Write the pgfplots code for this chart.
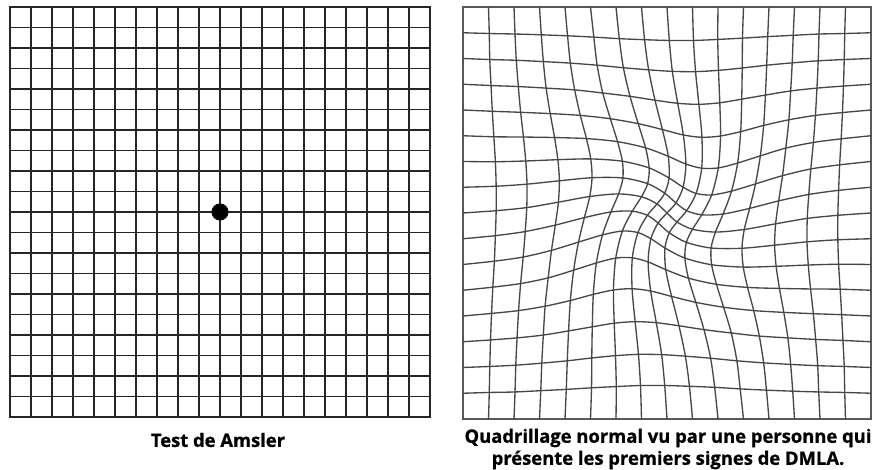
\documentclass[border=0pt]{standalone}
\usepackage{fontspec}
\setmainfont{Open Sans}
\usepackage{pgfplots}
\usepackage{pgfplotstable}
\pgfplotsset{compat=1.18}

\pgfplotstableread{
ci rj x y
0 0 0 0
1 0 1 0
2 0 2 0
3 0 3 0
4 0 4 0
5 0 5 0
6 0 6 0
7 0 7 0
8 0 8 0
9 0 9 0
10 0 10 0
11 0 11 0
12 0 12 0
13 0 13 0
14 0 14 0
15 0 15 0
16 0 16 0
0 1 0 1
1 1 1.03 1.03
2 1 2.04 1.05
3 1 3.05 1.10
4 1 4.05 1.15
5 1 5.04 1.21
6 1 6.01 1.26
7 1 6.96 1.30
8 1 7.91 1.30
9 1 8.88 1.27
10 1 9.87 1.23
11 1 10.87 1.17
12 1 11.90 1.12
13 1 12.93 1.08
14 1 13.95 1.05
15 1 14.97 1.03
16 1 16 1
0 2 0 2
1 2 1.05 2.04
2 2 2.07 2.09
3 2 3.09 2.17
4 2 4.09 2.26
5 2 5.05 2.37
6 2 5.98 2.46
7 2 6.88 2.51
8 2 7.79 2.50
9 2 8.72 2.44
10 2 9.71 2.36
11 2 10.74 2.26
12 2 11.79 2.18
13 2 12.85 2.12
14 2 13.91 2.07
15 2 14.95 2.04
16 2 16 2
0 3 0 3
1 3 1.08 3.07
2 3 2.12 3.15
3 3 3.15 3.26
4 3 4.14 3.42
5 3 5.07 3.58
6 3 5.93 3.72
7 3 6.75 3.78
8 3 7.58 3.74
9 3 8.47 3.62
10 3 9.45 3.47
11 3 10.52 3.34
12 3 11.62 3.22
13 3 12.74 3.15
14 3 13.83 3.09
15 3 14.90 3.05
16 3 16 3
0 4 0 4
1 4 1.12 4.10
2 4 2.18 4.21
3 4 3.22 4.38
4 4 4.21 4.60
5 4 5.11 4.84
6 4 5.90 5.01
7 4 6.63 5.06
8 4 7.36 4.97
9 4 8.18 4.76
10 4 9.13 4.53
11 4 10.22 4.34
12 4 11.40 4.21
13 4 12.58 4.14
14 4 13.74 4.09
15 4 14.85 4.05
16 4 16 4
0 5 0 5
1 5 1.17 5.12
2 5 2.26 5.26
3 5 3.34 5.48
4 5 4.34 5.78
5 5 5.23 6.06
6 5 5.99 6.25
7 5 6.64 6.26
8 5 7.26 6.10
9 5 7.95 5.80
10 5 8.84 5.47
11 5 9.94 5.23
12 5 11.16 5.11
13 5 12.41 5.07
14 5 13.63 5.05
15 5 14.79 5.04
16 5 16 5
0 6 0 6
1 6 1.23 6.13
2 6 2.36 6.29
3 6 3.47 6.55
4 6 4.53 6.87
5 6 5.47 7.15
6 6 6.25 7.30
7 6 6.86 7.24
8 6 7.37 7.00
9 6 7.92 6.64
10 6 8.70 6.25
11 6 9.75 5.99
12 6 10.99 5.90
13 6 12.28 5.93
14 6 13.54 5.98
15 6 14.73 6.01
16 6 16 6
0 7 0 7
1 7 1.27 7.12
2 7 2.44 7.28
3 7 3.62 7.53
4 7 4.76 7.82
5 7 5.80 8.04
6 7 6.64 8.07
7 7 7.23 7.91
8 7 7.65 7.61
9 7 8.09 7.23
10 7 8.76 6.86
11 7 9.73 6.64
12 7 10.94 6.63
13 7 12.22 6.75
14 7 13.49 6.88
15 7 14.70 6.96
16 7 16 7
0 8 0 8
1 8 1.30 8.09
2 8 2.50 8.21
3 8 3.74 8.42
4 8 4.97 8.64
5 8 6.10 8.74
6 8 7.00 8.63
7 8 7.61 8.35
8 8 8.00 8.00
9 8 8.39 7.65
10 8 9.00 7.37
11 8 9.90 7.26
12 8 11.03 7.36
13 8 12.26 7.58
14 8 13.50 7.79
15 8 14.70 7.91
16 8 16 8
0 9 0 9
1 9 1.30 9.04
2 9 2.51 9.12
3 9 3.78 9.25
4 9 5.06 9.37
5 9 6.27 9.36
6 9 7.24 9.14
7 9 7.91 8.77
8 9 8.35 8.39
9 9 8.77 8.09
10 9 9.36 7.93
11 9 10.20 7.96
12 9 11.24 8.18
13 9 12.38 8.47
14 9 13.56 8.72
15 9 14.73 8.88
16 9 16 9
0 10 0 10
1 10 1.27 9.99
2 10 2.46 10.02
3 10 3.72 10.07
4 10 5.01 10.10
5 10 6.25 10.01
6 10 7.30 9.75
7 10 8.08 9.36
8 10 8.63 9.00
9 10 9.14 8.76
10 10 9.75 8.70
11 10 10.53 8.85
12 10 11.47 9.13
13 10 12.53 9.45
14 10 13.64 9.71
15 10 14.77 9.87
16 10 16 10
0 11 0 11
1 11 1.21 10.96
2 11 2.37 10.95
3 11 3.59 10.93
4 11 4.84 10.89
5 11 6.06 10.77
6 11 7.16 10.53
7 11 8.05 10.20
8 11 8.74 9.90
9 11 9.36 9.74
10 11 10.01 9.75
11 11 10.77 9.94
12 11 11.66 10.22
13 11 12.66 10.52
14 11 13.74 10.74
15 11 14.83 10.88
16 11 16 11
0 12 0 12
1 12 1.15 11.95
2 12 2.26 11.91
3 12 3.42 11.86
4 12 4.60 11.79
5 12 5.78 11.66
6 12 6.87 11.47
7 12 7.82 11.24
8 12 8.64 11.03
9 12 9.37 10.94
10 12 10.10 10.99
11 12 10.89 11.16
12 12 11.79 11.40
13 12 12.78 11.62
14 12 13.82 11.79
15 12 14.88 11.90
16 12 16 12
0 13 0 13
1 13 1.10 12.95
2 13 2.17 12.91
3 13 3.26 12.85
4 13 4.38 12.78
5 13 5.48 12.66
6 13 6.55 12.53
7 13 7.53 12.38
8 13 8.42 12.26
9 13 9.25 12.22
10 13 10.07 12.28
11 13 10.93 12.42
12 13 11.86 12.58
13 13 12.85 12.74
14 13 13.88 12.85
15 13 14.92 12.93
16 13 16 13
0 14 0 14
1 14 1.05 13.96
2 14 2.09 13.93
3 14 3.15 13.88
4 14 4.21 13.82
5 14 5.26 13.74
6 14 6.29 13.64
7 14 7.28 13.56
8 14 8.21 13.50
9 14 9.12 13.49
10 14 10.02 13.54
11 14 10.95 13.63
12 14 11.91 13.74
13 14 12.91 13.83
14 14 13.93 13.91
15 14 14.95 13.96
16 14 16 14
0 15 0 15
1 15 1.03 14.97
2 15 2.04 14.95
3 15 3.07 14.92
4 15 4.10 14.88
5 15 5.13 14.83
6 15 6.13 14.77
7 15 7.12 14.73
8 15 8.09 14.70
9 15 9.04 14.70
10 15 9.99 14.74
11 15 10.96 14.79
12 15 11.95 14.85
13 15 12.95 14.90
14 15 13.96 14.95
15 15 14.97 14.97
16 15 16 15
0 16 0 16
1 16 1 16
2 16 2 16
3 16 3 16
4 16 4 16
5 16 5 16
6 16 6 16
7 16 7 16
8 16 8 16
9 16 9 16
10 16 10 16
11 16 11 16
12 16 12 16
13 16 13 16
14 16 14 16
15 16 15 16
16 16 16 16
}\distgrid
% same nodes, ordered column by column (for the vertical lines)
\pgfplotstablecreatecol[create col/expr={\thisrow{ci}*100+\thisrow{rj}}]{key}{\distgrid}
\pgfplotstablesort[sort key=key]{\distgridv}{\distgrid}

\begin{document}
\begin{tikzpicture}[x=1pt,y=1pt]
\path[use as bounding box] (0,0) rectangle (655.5,352.5);
% Left: regular Amsler grid
\begin{axis}[
  at={(7.5pt,39.75pt)}, anchor=south west,
  scale only axis, width=315pt, height=307.5pt,
  xmin=0, xmax=20, ymin=0, ymax=20,
  xtick={0,...,20}, ytick={0,...,20},
  xticklabels={}, yticklabels={},
  major tick length=0pt,
  grid=major,
  major grid style={black!85, line width=1.4pt},
  axis line style={black!85, line width=1.5pt},
  clip=false,
]
\addplot[only marks, mark=*, mark size=6.2pt, black] coordinates {(10,10)};
\end{axis}
% Right: distorted grid
\begin{axis}[
  at={(347.25pt,38.25pt)}, anchor=south west,
  scale only axis, width=306pt, height=309pt,
  xmin=0, xmax=16, ymin=0, ymax=16,
  xtick=\empty, ytick=\empty,
  axis line style={black!65, line width=1.4pt},
  clip=false, unbounded coords=discard,
]
\pgfplotsinvokeforeach{1,...,15}{
  \addplot[black!72, line width=1.0pt, smooth, no marks]
    table[x=x, y=y, restrict expr to domain={\thisrow{rj}}{#1:#1}] {\distgrid};
  \addplot[black!72, line width=1.0pt, smooth, no marks]
    table[x=x, y=y, restrict expr to domain={\thisrow{ci}}{#1:#1}] {\distgridv};
}
\end{axis}
\node[font=\bfseries\fontsize{13.8}{16.5}\selectfont\addfontfeature{FakeBold=0.8}] at (163.5,22.5) {Test de Amsler};
\node[font=\bfseries\fontsize{13.8}{16.5}\selectfont\addfontfeature{FakeBold=0.8}, align=center] at (501,15.75)
  {Quadrillage normal vu par une personne qui\\présente les premiers signes de DMLA.};
\end{tikzpicture}
\end{document}
